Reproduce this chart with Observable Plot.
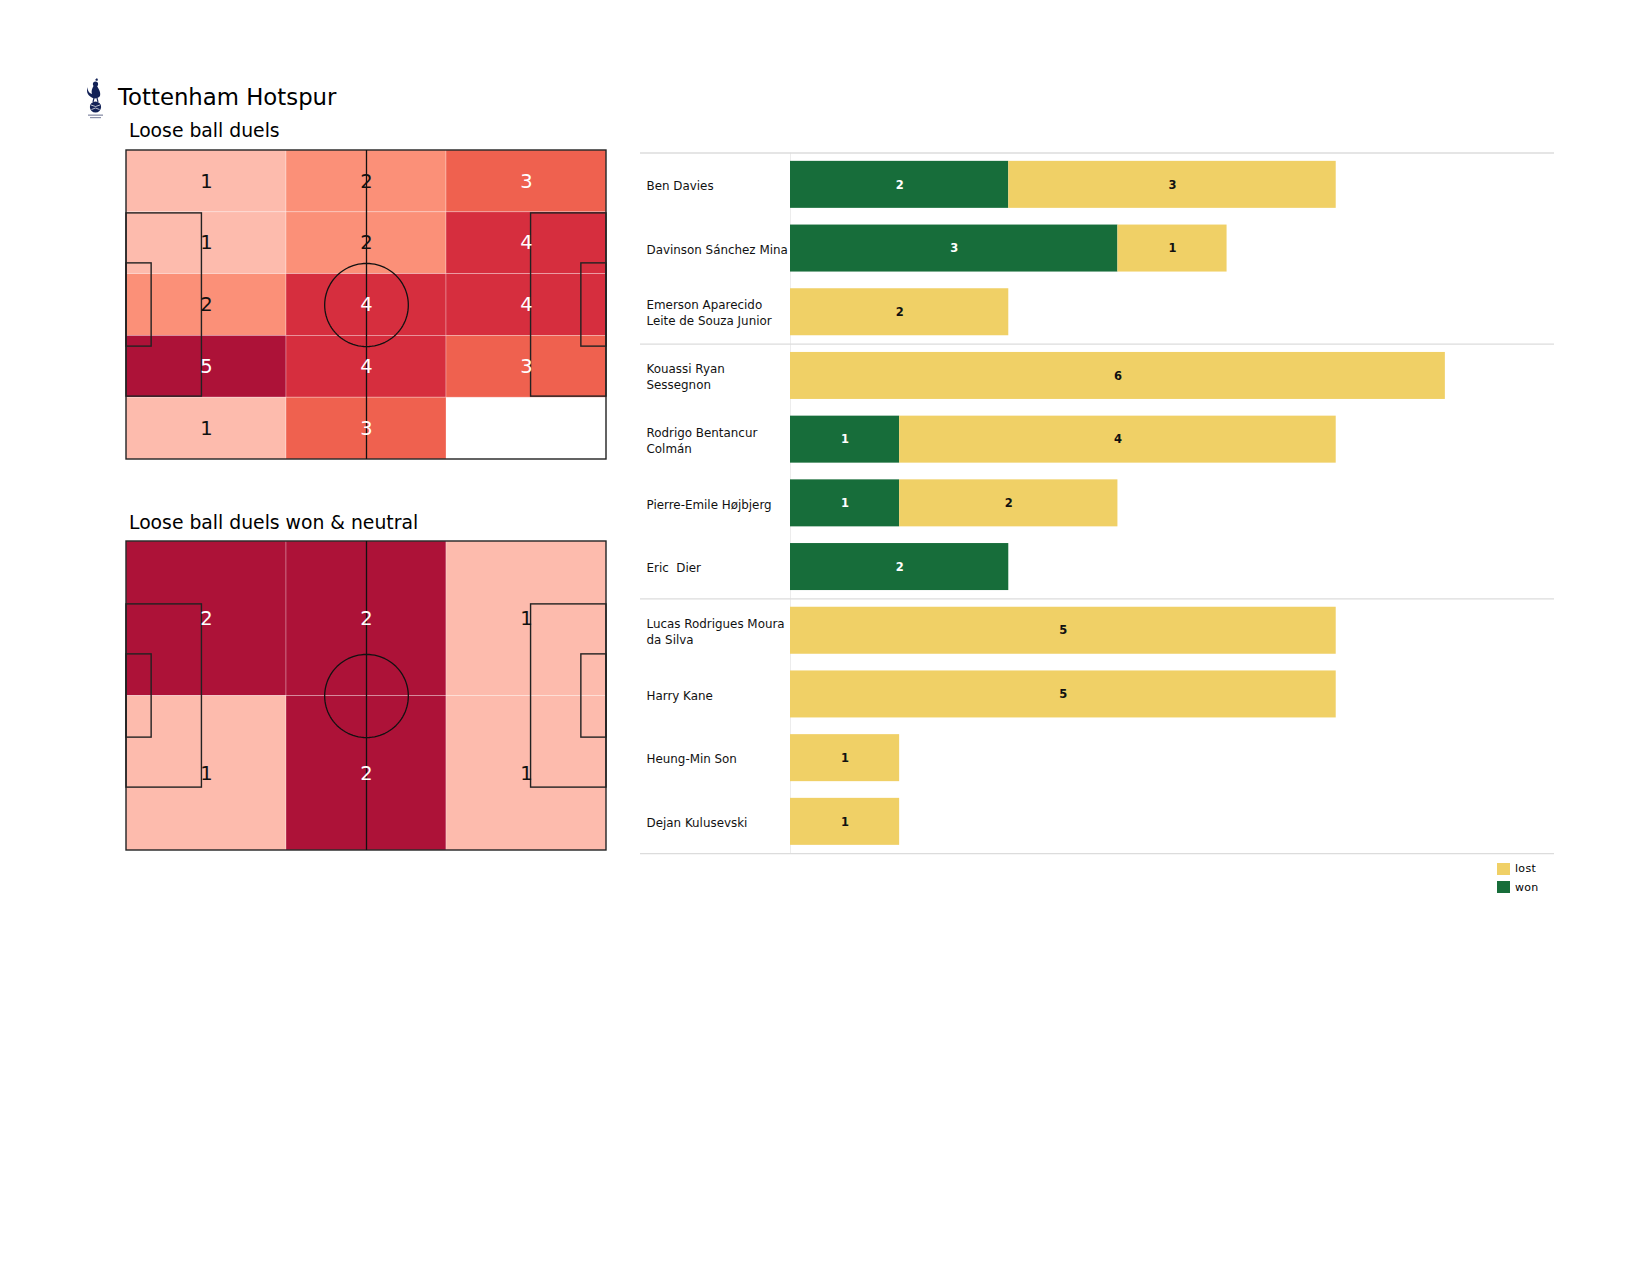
<!DOCTYPE html>
<html><head><meta charset="utf-8">
<script src="https://cdn.jsdelivr.net/npm/d3@7"></script>
<script src="https://cdn.jsdelivr.net/npm/@observablehq/plot@0.6"></script>
<style>
body{margin:0;background:#fff;font-family:"DejaVu Sans",sans-serif;color:#000;}
#page{position:relative;width:1650px;height:1275px;overflow:hidden;background:#fff;}
.abs{position:absolute;white-space:nowrap;}
</style></head><body><div id="page"></div>
<script>
// ---------- data ----------
const teamName = "Tottenham Hotspur";
const pitchTitles = ["Loose ball duels", "Loose ball duels won & neutral"];
// heat grids: rows top -> bottom, columns left -> right
const duelsGrid = [[1,2,3],[1,2,4],[2,4,4],[5,4,3],[1,3,0]];
const wonNeutralGrid = [[2,2,1],[1,2,1]];
const players = ["Ben Davies", "Davinson Sánchez Mina", "Emerson Aparecido\nLeite de Souza Junior",
  "Kouassi Ryan\nSessegnon", "Rodrigo Bentancur\nColmán", "Pierre-Emile Højbjerg", "Eric  Dier",
  "Lucas Rodrigues Moura\nda Silva", "Harry Kane", "Heung-Min Son", "Dejan Kulusevski"];
const won  = [2,3,0,0,1,1,2,0,0,0,0];
const lost = [3,1,2,6,4,2,0,5,5,1,1];
const groupEnds = [2, 6, 10]; // last player index of each position group
const resultLabels = ["lost", "won"];
const resultColors = ["#f0d066", "#176d3a"];
const heatStops = ["#fdbbad", "#fb9078", "#ef614f", "#d62e3e", "#ad1238"];

const page = document.getElementById("page");
function addText(txt, left, cy, size, lh, extra = "") {
  const d = document.createElement("div");
  d.className = "abs";
  d.textContent = txt;
  d.style.cssText += `left:${left}px;top:${cy - lh / 2}px;font-size:${size}px;line-height:${lh}px;${extra}`;
  page.appendChild(d);
  return d;
}
function place(node, left, top) {
  node.style.position = "absolute";
  node.style.left = left + "px";
  node.style.top = top + "px";
  page.appendChild(node);
}

// ---------- logo + titles ----------
const logo = document.createElement("div");
logo.className = "abs";
logo.style.cssText = "left:83px;top:77px;width:28px;height:46px;";
logo.innerHTML = `<svg width="28" height="46" viewBox="0 0 28 46">
 <path d="M12 3 l2 -2 l1 2 l-1 1 z" fill="#132257"/>
 <circle cx="12.5" cy="7" r="2.6" fill="#132257"/>
 <path d="M10.5 9 C9 12 8 14 9 17 C6 16 4 13 5 10 C3 13 4 18 8 20 C10 22 15 22 17 19 C18 16 16 12 14 9 Z" fill="#132257"/>
 <line x1="11" y1="21" x2="10" y2="25" stroke="#132257" stroke-width="1.2"/>
 <line x1="14" y1="21" x2="15" y2="25" stroke="#132257" stroke-width="1.2"/>
 <circle cx="12.5" cy="30" r="5.6" fill="#132257"/>
 <path d="M8 28 Q12.5 31 17 28 M8.5 32.5 Q12.5 29.5 16.5 32.5" stroke="#fff" stroke-width="0.7" fill="none"/>
 <rect x="5" y="37.5" width="15" height="1.3" fill="#8a8fa8"/>
 <rect x="7" y="40" width="11" height="1.2" fill="#8a8fa8"/>
</svg>`;
page.appendChild(logo);
addText(teamName, 118, 97, 22.8, 28);
addText(pitchTitles[0], 129, 130.5, 18.8, 24);
addText(pitchTitles[1], 129, 523, 18.8, 24);

// ---------- pitch heatmaps ----------
const PITCH_L = 105, PITCH_W = 68;
const penaltyDepth = 16.5, penaltyWidth = 40.32, sixDepth = 5.5, sixWidth = 18.32, circleR = 9.15;
function pitchPlot(grid) {
  const rows = grid.length, cols = grid[0].length;
  const cw = PITCH_L / cols, rh = PITCH_W / rows;
  const cells = [];
  grid.forEach((row, r) => row.forEach((v, c) =>
    cells.push({v, x1: c * cw, x2: (c + 1) * cw, y1: r * rh, y2: (r + 1) * rh})));
  const max = d3.max(cells, d => d.v);
  const filled = cells.filter(d => d.v > 0);
  const norm = d => (d.v - 1) / (max - 1);
  const cy = PITCH_W / 2;
  const boxes = [
    {x1: 0, x2: PITCH_L, y1: 0, y2: PITCH_W},
    {x1: 0, x2: penaltyDepth, y1: cy - penaltyWidth / 2, y2: cy + penaltyWidth / 2},
    {x1: 0, x2: sixDepth, y1: cy - sixWidth / 2, y2: cy + sixWidth / 2},
    {x1: PITCH_L - penaltyDepth, x2: PITCH_L, y1: cy - penaltyWidth / 2, y2: cy + penaltyWidth / 2},
    {x1: PITCH_L - sixDepth, x2: PITCH_L, y1: cy - sixWidth / 2, y2: cy + sixWidth / 2}
  ];
  const circle = d3.range(0, 97).map(i => {
    const a = i / 96 * 2 * Math.PI;
    return {x: PITCH_L / 2 + circleR * Math.cos(a), y: cy + circleR * Math.sin(a)};
  });
  const pad = 10;
  return Plot.plot({
    width: 480 + 2 * pad, height: 309 + 2 * pad,
    marginLeft: pad, marginRight: pad, marginTop: pad, marginBottom: pad,
    style: {background: "transparent", overflow: "visible", fontFamily: "DejaVu Sans"},
    x: {domain: [0, PITCH_L], axis: null},
    y: {domain: [0, PITCH_W], reverse: true, axis: null},
    color: {type: "linear", domain: [1, max], interpolate: d3.piecewise(d3.interpolateRgb, heatStops)},
    marks: [
      Plot.rect(filled, {x1: "x1", x2: "x2", y1: "y1", y2: "y2", fill: "v", stroke: "white", strokeOpacity: 0.35, strokeWidth: 0.8}),
      Plot.rect(boxes, {x1: "x1", x2: "x2", y1: "y1", y2: "y2", fill: "none", stroke: "#222", strokeWidth: 1.4}),
      Plot.ruleX([PITCH_L / 2], {y1: 0, y2: PITCH_W, stroke: "#111", strokeWidth: 1.3}),
      Plot.line(circle, {x: "x", y: "y", stroke: "#111", strokeWidth: 1.3, curve: "linear"}),
      Plot.text(filled.filter(d => norm(d) < 0.5), {x: d => (d.x1 + d.x2) / 2, y: d => (d.y1 + d.y2) / 2, text: d => String(d.v), fill: "#111", fontSize: 19.5}),
      Plot.text(filled.filter(d => norm(d) >= 0.5), {x: d => (d.x1 + d.x2) / 2, y: d => (d.y1 + d.y2) / 2, text: d => String(d.v), fill: "white", fontSize: 19.5})
    ]
  });
}
place(pitchPlot(duelsGrid), 116, 140);
place(pitchPlot(wonNeutralGrid), 116, 531);

// ---------- stacked bars ----------
const barRows = [];
players.forEach((p, i) => {
  if (won[i] > 0) barRows.push({player: p, result: "won", n: won[i], start: 0});
  if (lost[i] > 0) barRows.push({player: p, result: "lost", n: lost[i], start: won[i]});
});
const bandStep = 63.7, barH = 47;
const inset = (bandStep - barH) / 2;
const barTop = 52.5;
const barPlot = Plot.plot({
  width: 1000, height: 800,
  marginLeft: 190, marginRight: 46, marginTop: barTop, marginBottom: 800 - barTop - bandStep * players.length,
  style: {background: "transparent", overflow: "visible", fontFamily: "DejaVu Sans"},
  x: {domain: [0, 7], axis: null},
  y: {domain: players, padding: 0, round: false, axis: null},
  color: {domain: resultLabels, range: resultColors},
  marks: [
    Plot.ruleX([0], {stroke: "#ececec", strokeWidth: 1}),
    Plot.ruleY([players[0]], {dy: -bandStep / 2, insetLeft: -150, stroke: "#dcdcdc", strokeWidth: 1.3}),
    Plot.ruleY(groupEnds.map(i => players[i]), {dy: bandStep / 2, insetLeft: -150, stroke: "#dcdcdc", strokeWidth: 1.3}),
    Plot.barX(barRows, {x1: "start", x2: d => d.start + d.n, y: "player", fill: "result", insetTop: inset, insetBottom: inset}),
    Plot.text(barRows.filter(d => d.result === "won"), {x: d => d.start + d.n / 2, y: "player", text: d => String(d.n), fill: "white", fontWeight: "bold", fontSize: 11.5}),
    Plot.text(barRows.filter(d => d.result === "lost"), {x: d => d.start + d.n / 2, y: "player", text: d => String(d.n), fill: "#111", fontWeight: "bold", fontSize: 11.5}),
    Plot.text(players, {y: d => d, text: d => d, frameAnchor: "left", dx: -144, textAnchor: "start", lineAnchor: "middle", lineHeight: 1.35, fontSize: 11.9, fill: "#111"})
  ]
});
place(barPlot, 600, 100);

// ---------- legend ----------
resultLabels.forEach((lab, i) => {
  const sq = document.createElement("div");
  sq.className = "abs";
  sq.style.cssText = `left:1497px;top:${862.5 + i * 18.2}px;width:12.5px;height:12.5px;background:${resultColors[i]};`;
  page.appendChild(sq);
  addText(lab, 1515, 869 + i * 18.5, 11, 14, "letter-spacing:0.3px;");
});
</script></body></html>
